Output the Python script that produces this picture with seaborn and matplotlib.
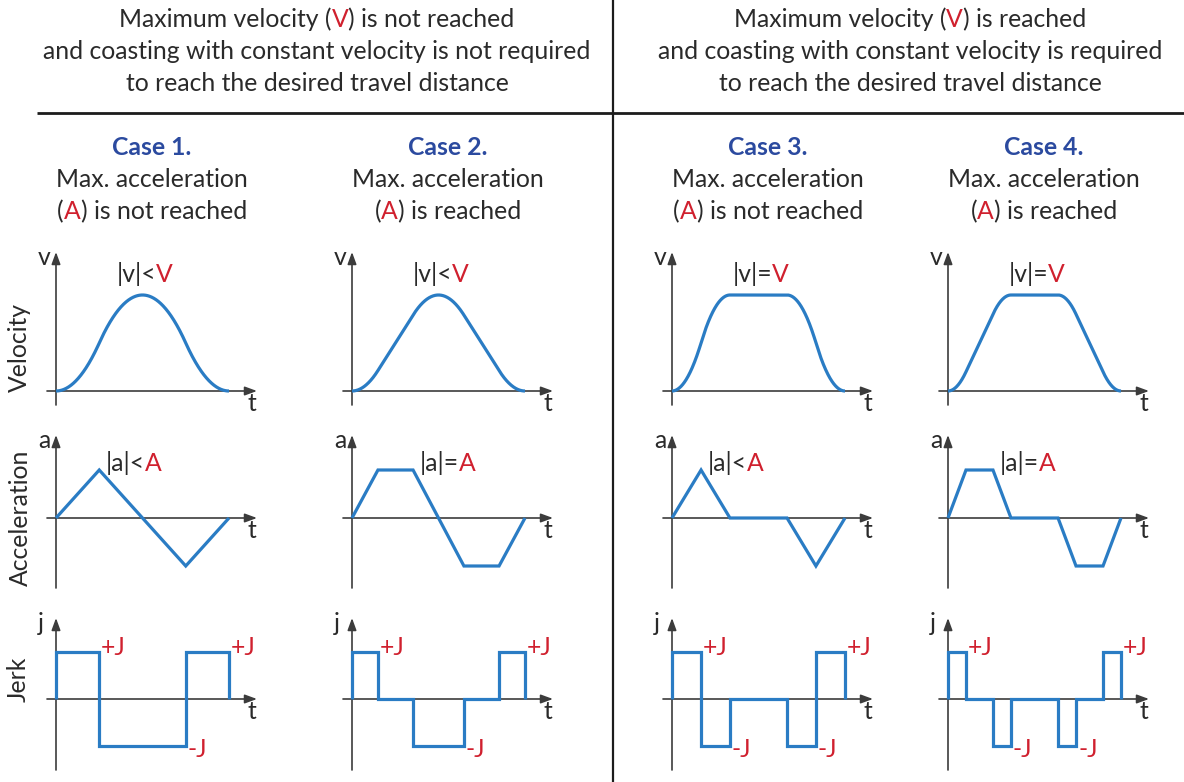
import re
import numpy as np
import pandas as pd
import matplotlib
matplotlib.use("Agg")
import matplotlib.pyplot as plt
import seaborn as sns

sns.set_theme(style="white")
plt.rcParams["font.family"] = ["Lato", "DejaVu Sans"]

W, H = 1184, 782

# ---------------- chart content ----------------
# text in {braces} is drawn in red
group_headers = [
    ["Maximum velocity ({V}) is not reached",
     "and coasting with constant velocity is not required",
     "to reach the desired travel distance"],
    ["Maximum velocity ({V}) is reached",
     "and coasting with constant velocity is required",
     "to reach the desired travel distance"],
]
case_titles = ["Case 1.", "Case 2.", "Case 3.", "Case 4."]
case_line2 = ["Max. acceleration"] * 4
case_line3 = ["({A}) is not reached", "({A}) is reached",
              "({A}) is not reached", "({A}) is reached"]
velocity_labels = ["|v|<{V}", "|v|<{V}", "|v|={V}", "|v|={V}"]
accel_labels = ["|a|<{A}", "|a|={A}", "|a|<{A}", "|a|={A}"]
row_labels = ["Velocity", "Acceleration", "Jerk"]
axis_symbols = ["v", "a", "j"]

# breakpoints of each motion profile (fraction of the total move time)
profile_times = [
    [0.0, 0.25, 0.75, 1.0],
    [0.0, 0.150, 0.353, 0.647, 0.850, 1.0],
    [0.0, 0.168, 0.335, 0.665, 0.832, 1.0],
    [0.0, 0.104, 0.260, 0.364, 0.636, 0.740, 0.896, 1.0],
]
# acceleration at the breakpoints (units of A)
accel_values = [
    [0, 1, -1, 0],
    [0, 1, 1, -1, -1, 0],
    [0, 1, 0, 0, -1, 0],
    [0, 1, 1, 0, 0, -1, -1, 0],
]
# jerk on each interval between breakpoints (units of J)
jerk_values = [
    [1, -1, 1],
    [1, 0, -1, 0, 1],
    [1, -1, 0, -1, 1],
    [1, 0, -1, 0, -1, 0, 1],
]
peak_velocity = [1.0, 1.0, 1.0, 1.0]   # units of V

# ---------------- styling / layout ----------------
INK = "#2a2a2a"
RED = "#d0202e"
TITLE_BLUE = "#2b4a9f"
CURVE = "#2a7cc4"
AXIS = "#3c3c3c"
FS = 17.8

col_origin = [56, 352, 672, 948]          # pixel x of each t = 0
row_base = [391, 518, 699]                # pixel y of each zero line
row_scale = [96, 48, 47]                  # pixels per unit (V, A, J)
t_scale = 173                             # pixels per move time
axis_top = [139, 83, 81]                  # y-axis extent above zero (px)
axis_bottom = [14, 70, 71]                # y-axis extent below zero (px)

fig = plt.figure(figsize=(W / 100, H / 100), dpi=100)
bg = fig.add_axes([0, 0, 1, 1])
bg.set_xlim(0, W)
bg.set_ylim(H, 0)
bg.axis("off")
renderer = fig.canvas.get_renderer()


def rich(x, y, s, size=FS, color=INK, weight="normal", ha="center"):
    """Draw a string with red {segments}, baseline at y (pixel coords)."""
    arts = []
    for piece in [p for p in re.split(r"(\{[^}]*\})", s) if p]:
        red = piece.startswith("{")
        txt = piece[1:-1] if red else piece
        arts.append(bg.text(0, y, txt, fontsize=size, fontweight=weight,
                            color=RED if red else color,
                            ha="left", va="baseline"))
    widths = [a.get_window_extent(renderer).width for a in arts]
    cur = x - sum(widths) / 2 if ha == "center" else x
    for a, w in zip(arts, widths):
        a.set_x(cur)
        cur += w


def to_px(ax, x, y):
    disp = ax.transData.transform((x, y))
    return bg.transData.inverted().transform(disp)


def velocity_curve(times, acc, vpeak):
    t = np.union1d(np.linspace(0, 1, 600), times)
    a = np.interp(t, times, acc)
    v = np.concatenate([[0.0], np.cumsum(0.5 * (a[1:] + a[:-1]) * np.diff(t))])
    return t, v / v.max() * vpeak


def jerk_steps(times, levels):
    xs, ys = [times[0]], [0.0]
    for i, lev in enumerate(levels):
        xs += [times[i], times[i + 1]]
        ys += [lev, lev]
    xs.append(times[-1])
    ys.append(0.0)
    return xs, ys


# ---------------- dividers and headers ----------------
bg.plot([613, 613], [0, H], color="#1c1c1c", lw=1.6, solid_capstyle="butt")
bg.plot([37, W], [113, 113], color="#1c1c1c", lw=2.0, solid_capstyle="butt")

for cx, lines in zip([317, 910], group_headers):
    for k, line in enumerate(lines):
        rich(cx, 27 + 32 * k, line)

for c in range(4):
    cx = col_origin[c] + 96
    rich(cx, 155, case_titles[c], color=TITLE_BLUE, weight="bold")
    rich(cx, 187, case_line2[c])
    rich(cx, 219, case_line3[c])

for label, (lx, ly) in zip(row_labels, [(19, 348), (20, 518), (18, 679)]):
    bg.text(lx, ly, label, fontsize=FS, color=INK, rotation=90,
            ha="center", va="center")

# ---------------- panels ----------------
pad_l, pad_r, pad_b, pad_t = 20, 215, 80, 150
arrow = dict(arrowstyle="-|>,head_length=0.6,head_width=0.22", color=AXIS,
             lw=1.2, shrinkA=0, shrinkB=0)

for c in range(4):
    times = profile_times[c]
    tv, vv = velocity_curve(times, accel_values[c], peak_velocity[c])
    jx, jy = jerk_steps(times, jerk_values[c])
    series = [
        pd.DataFrame({"t": tv, "val": vv}),
        pd.DataFrame({"t": times, "val": accel_values[c]}),
        pd.DataFrame({"t": jx, "val": jy}),
    ]
    for r in range(3):
        ys = row_scale[r]
        x0, base = col_origin[c], row_base[r]
        ax = fig.add_axes([(x0 - pad_l) / W, (H - (base + pad_b)) / H,
                           (pad_l + pad_r) / W, (pad_b + pad_t) / H])
        sns.lineplot(data=series[r], x="t", y="val", ax=ax, color=CURVE,
                     lw=2.3, estimator=None, sort=False, legend=False,
                     solid_joinstyle="miter", solid_capstyle="butt", zorder=5)
        ax.set_xlim(-pad_l / t_scale, pad_r / t_scale)
        ax.set_ylim(-pad_b / ys, pad_t / ys)
        ax.axis("off")

        # axes with arrowheads
        ax.annotate("", xy=(201 / t_scale, 0), xytext=(-9 / t_scale, 0),
                    arrowprops=arrow, zorder=2)
        ax.annotate("", xy=(0, axis_top[r] / ys), xytext=(0, -axis_bottom[r] / ys),
                    arrowprops=arrow, zorder=2)

        px, py = to_px(ax, 0, 0)
        rich(px + 192, py + 20, "t", ha="left")
        rich(px - 18, py - axis_top[r] + 13, axis_symbols[r], ha="left")

        if r == 0:
            vx, vy = to_px(ax, 0.5, peak_velocity[c])
            rich(vx + 2, vy - 13, velocity_labels[c])
        elif r == 1:
            acc = np.asarray(accel_values[c])
            i_end = max(i for i in range(len(acc)) if acc[i] == acc.max()
                        and times[i] < 0.5)
            ax_, ay_ = to_px(ax, times[i_end], acc.max())
            rich(ax_ + 7, ay_ + 1, accel_labels[c], ha="left")
        else:
            for i, lev in enumerate(jerk_values[c]):
                if lev == 0:
                    continue
                jx_, jy_ = to_px(ax, times[i + 1], lev)
                if lev > 0:
                    rich(jx_ + 2, jy_ + 3, "{+J}", ha="left")
                else:
                    rich(jx_ + 2, jy_ + 11, "{-J}", ha="left")

fig.savefig("out.png", dpi=100, facecolor="white")
